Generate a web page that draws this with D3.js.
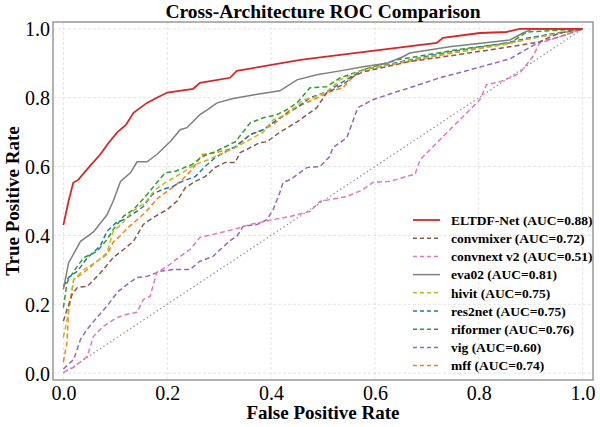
<!DOCTYPE html>
<html>
<head>
<meta charset="utf-8">
<script src="https://cdn.jsdelivr.net/npm/d3@7"></script>
<style>
  body { margin: 0; background: #fff; }
  text { font-family: "Liberation Serif", "Times New Roman", serif; }
</style>
</head>
<body>
<div id="chart"></div>
<script>
// ROC points [fpr, tpr]
var eltdf = [[0,0.43],[0.01,0.50],[0.019,0.553],[0.029,0.562],[0.05,0.60],[0.071,0.635],[0.085,0.665],[0.104,0.70],[0.12,0.72],[0.135,0.756],[0.161,0.785],[0.18,0.80],[0.2,0.815],[0.25,0.826],[0.263,0.843],[0.321,0.858],[0.334,0.878],[0.456,0.91],[0.719,0.959],[0.731,0.974],[0.802,0.988],[0.853,0.991],[0.879,1],[1,1]];
var convmixer = [[0,0.151],[0.007,0.185],[0.017,0.229],[0.027,0.249],[0.046,0.252],[0.065,0.281],[0.077,0.301],[0.096,0.336],[0.116,0.359],[0.135,0.383],[0.154,0.432],[0.173,0.452],[0.2,0.475],[0.219,0.50],[0.235,0.539],[0.254,0.557],[0.273,0.571],[0.292,0.597],[0.312,0.612],[0.331,0.612],[0.34,0.64],[0.379,0.67],[0.392,0.672],[0.417,0.70],[0.45,0.73],[0.488,0.771],[0.507,0.814],[0.538,0.838],[0.558,0.861],[0.577,0.875],[0.667,0.905],[0.76,0.925],[0.86,0.948],[0.917,0.962],[0.935,0.975],[0.956,0.988],[1,1]];
var convnext = [[0,0.003],[0.02,0.017],[0.046,0.049],[0.058,0.107],[0.077,0.136],[0.104,0.162],[0.123,0.171],[0.142,0.177],[0.154,0.214],[0.167,0.223],[0.18,0.293],[0.2,0.31],[0.225,0.339],[0.244,0.359],[0.263,0.394],[0.288,0.403],[0.327,0.417],[0.36,0.432],[0.404,0.446],[0.437,0.455],[0.475,0.47],[0.494,0.499],[0.513,0.504],[0.546,0.513],[0.577,0.533],[0.596,0.554],[0.629,0.557],[0.667,0.574],[0.677,0.577],[0.687,0.62],[0.712,0.658],[0.75,0.716],[0.777,0.756],[0.802,0.794],[0.815,0.838],[0.84,0.846],[0.865,0.861],[0.879,0.872],[0.904,0.919],[0.917,0.959],[0.95,0.974],[1,1]];
var eva02 = [[0,0.243],[0.01,0.32],[0.033,0.383],[0.058,0.41],[0.084,0.46],[0.096,0.50],[0.11,0.557],[0.129,0.582],[0.142,0.614],[0.161,0.614],[0.18,0.635],[0.206,0.673],[0.225,0.707],[0.238,0.713],[0.263,0.751],[0.277,0.765],[0.296,0.785],[0.327,0.798],[0.365,0.808],[0.417,0.82],[0.45,0.852],[0.488,0.867],[0.533,0.878],[0.577,0.89],[0.623,0.90],[0.654,0.919],[0.667,0.93],[0.744,0.948],[0.86,0.968],[0.885,0.988],[0.904,1],[1,1]];
var hivit = [[0,0.104],[0.01,0.177],[0.02,0.272],[0.039,0.30],[0.065,0.325],[0.084,0.35],[0.096,0.412],[0.11,0.43],[0.133,0.47],[0.158,0.496],[0.177,0.533],[0.196,0.553],[0.229,0.582],[0.254,0.606],[0.279,0.62],[0.331,0.655],[0.385,0.70],[0.404,0.736],[0.43,0.75],[0.462,0.794],[0.481,0.80],[0.507,0.817],[0.533,0.852],[0.577,0.881],[0.667,0.908],[0.75,0.932],[0.85,0.956],[0.9,0.972],[1,1]];
var res2net = [[0,0.252],[0.01,0.278],[0.027,0.296],[0.046,0.335],[0.071,0.369],[0.084,0.412],[0.1,0.435],[0.116,0.446],[0.133,0.461],[0.154,0.484],[0.171,0.519],[0.19,0.533],[0.21,0.542],[0.229,0.557],[0.254,0.571],[0.273,0.60],[0.292,0.626],[0.331,0.658],[0.36,0.693],[0.385,0.707],[0.417,0.742],[0.45,0.771],[0.475,0.80],[0.507,0.817],[0.538,0.846],[0.577,0.881],[0.667,0.91],[0.75,0.935],[0.85,0.958],[0.9,0.975],[1,1]];
var riformer = [[0,0.19],[0.007,0.263],[0.02,0.296],[0.039,0.335],[0.065,0.354],[0.084,0.388],[0.096,0.417],[0.116,0.456],[0.135,0.475],[0.158,0.513],[0.177,0.548],[0.196,0.582],[0.215,0.586],[0.248,0.606],[0.267,0.629],[0.292,0.643],[0.331,0.672],[0.36,0.727],[0.385,0.742],[0.41,0.75],[0.43,0.765],[0.45,0.785],[0.475,0.829],[0.507,0.832],[0.533,0.858],[0.577,0.881],[0.642,0.91],[0.667,0.916],[0.76,0.94],[0.86,0.96],[0.879,0.977],[0.892,0.991],[1,1]];
var vig = [[0,0.012],[0.02,0.04],[0.033,0.098],[0.046,0.128],[0.065,0.162],[0.084,0.195],[0.104,0.235],[0.123,0.258],[0.142,0.278],[0.161,0.281],[0.187,0.296],[0.212,0.301],[0.244,0.301],[0.263,0.325],[0.288,0.339],[0.302,0.359],[0.321,0.385],[0.334,0.397],[0.346,0.426],[0.373,0.432],[0.392,0.446],[0.404,0.475],[0.417,0.525],[0.423,0.554],[0.437,0.562],[0.469,0.597],[0.494,0.60],[0.513,0.629],[0.519,0.655],[0.546,0.684],[0.567,0.771],[0.596,0.794],[0.635,0.814],[0.667,0.829],[0.725,0.858],[0.783,0.881],[0.86,0.913],[0.879,0.93],[0.917,0.962],[0.956,0.977],[1,1]];
var mff = [[0,0.032],[0.007,0.09],[0.01,0.185],[0.02,0.272],[0.039,0.292],[0.065,0.325],[0.084,0.345],[0.096,0.38],[0.11,0.40],[0.125,0.423],[0.158,0.467],[0.183,0.51],[0.21,0.539],[0.229,0.562],[0.248,0.591],[0.267,0.635],[0.292,0.64],[0.331,0.655],[0.36,0.693],[0.385,0.707],[0.404,0.722],[0.437,0.765],[0.481,0.794],[0.513,0.817],[0.538,0.829],[0.558,0.861],[0.577,0.881],[0.667,0.906],[0.75,0.93],[0.85,0.955],[0.9,0.972],[1,1]];
var chance = [[0,0],[1,1]];

var seriesNames = ["ELTDF-Net (AUC=0.88)", "convmixer (AUC=0.72)", "convnext v2 (AUC=0.51)", "eva02 (AUC=0.81)",
  "hivit (AUC=0.75)", "res2net (AUC=0.75)", "riformer (AUC=0.76)", "vig (AUC=0.60)", "mff (AUC=0.74)"];
var seriesData = [eltdf, convmixer, convnext, eva02, hivit, res2net, riformer, vig, mff];
var seriesColors = ["#d62728", "#8c564b", "#e377c2", "#7f7f7f", "#bcbd22", "#1f77b4", "#2ca02c", "#9467bd", "#ff7f0e"];
var seriesDashed = [false, true, true, false, true, true, true, true, true];
var ticks = [0, 0.2, 0.4, 0.6, 0.8, 1.0];

var width = 600, height = 427;
var margin = {top: 22, right: 7, bottom: 47, left: 53};

var svg = d3.select("#chart").append("svg")
  .attr("width", width)
  .attr("height", height);

var x = d3.scaleLinear().domain([-0.02, 1.02]).range([margin.left, width - margin.right]);
var y = d3.scaleLinear().domain([-0.02, 1.02]).range([height - margin.bottom, margin.top]);

// grid
var grid = svg.append("g");
ticks.forEach(function(t) {
  grid.append("line")
    .attr("x1", x(t)).attr("x2", x(t))
    .attr("y1", y(-0.02)).attr("y2", y(1.02))
    .attr("stroke", "#dddddd").attr("stroke-width", 0.8)
    .style("stroke-dasharray", "3, 2");
  grid.append("line")
    .attr("x1", x(-0.02)).attr("x2", x(1.02))
    .attr("y1", y(t)).attr("y2", y(t))
    .attr("stroke", "#dddddd").attr("stroke-width", 0.8)
    .style("stroke-dasharray", "3, 2");
});

var line = d3.line().x(function(d) { return x(d[0]); }).y(function(d) { return y(d[1]); });

// chance line
svg.append("path")
  .attr("d", line(chance))
  .attr("fill", "none")
  .attr("stroke", "#999999")
  .attr("stroke-width", 1.3)
  .style("stroke-dasharray", "1.5, 2.5");

// draw in reverse so ELTDF sits on top
for (var i = seriesData.length - 1; i >= 0; i--) {
  var p = svg.append("path")
    .attr("d", line(seriesData[i]))
    .attr("fill", "none")
    .attr("stroke", seriesColors[i])
    .attr("stroke-width", i == 0 ? 1.8 : 1.5);
  if (seriesDashed[i]) p.style("stroke-dasharray", "5, 3");
}

// frame
svg.append("rect")
  .attr("x", x(-0.02)).attr("y", y(1.02))
  .attr("width", x(1.02) - x(-0.02))
  .attr("height", y(-0.02) - y(1.02))
  .attr("fill", "none")
  .attr("stroke", "#999999")
  .attr("stroke-width", 1.5);

// axes
var xAxis = svg.append("g")
  .attr("transform", "translate(0," + y(-0.02) + ")")
  .call(d3.axisBottom(x).tickValues(ticks).tickFormat(d3.format(".1f")).tickSize(0).tickPadding(6));
var yAxis = svg.append("g")
  .attr("transform", "translate(" + x(-0.02) + ",0)")
  .call(d3.axisLeft(y).tickValues(ticks).tickFormat(d3.format(".1f")).tickSize(0).tickPadding(3));
[xAxis, yAxis].forEach(function(a) {
  a.select(".domain").remove();
  a.selectAll("text")
    .style("font-family", "'Liberation Serif', serif")
    .style("font-size", "20px")
    .attr("fill", "#000");
});
yAxis.selectAll("text").attr("dy", "0.35em");

// labels
svg.append("text")
  .attr("x", (x(-0.02) + x(1.02)) / 2).attr("y", 18)
  .attr("text-anchor", "middle")
  .style("font-size", "19.5px").style("font-weight", "bold")
  .text("Cross-Architecture ROC Comparison");
svg.append("text")
  .attr("x", (x(-0.02) + x(1.02)) / 2).attr("y", 419)
  .attr("text-anchor", "middle")
  .style("font-size", "19px").style("font-weight", "bold")
  .text("False Positive Rate");
svg.append("text")
  .attr("transform", "translate(19," + ((y(-0.02) + y(1.02)) / 2) + ") rotate(-90)")
  .attr("text-anchor", "middle")
  .style("font-size", "19px").style("font-weight", "bold")
  .text("True Positive Rate");

// legend
var legend = svg.append("g");
seriesNames.forEach(function(name, i) {
  var ly = 220 + i * 18.2;
  var l = legend.append("line")
    .attr("x1", 413).attr("x2", 440)
    .attr("y1", ly).attr("y2", ly)
    .attr("stroke", seriesColors[i])
    .attr("stroke-width", i == 0 ? 1.8 : 1.5);
  if (seriesDashed[i]) l.style("stroke-dasharray", "4, 3");
  legend.append("text")
    .attr("x", 451).attr("y", ly)
    .attr("dy", "0.35em")
    .style("font-size", "13.5px").style("font-weight", "bold")
    .text(name);
});
</script>
</body>
</html>
